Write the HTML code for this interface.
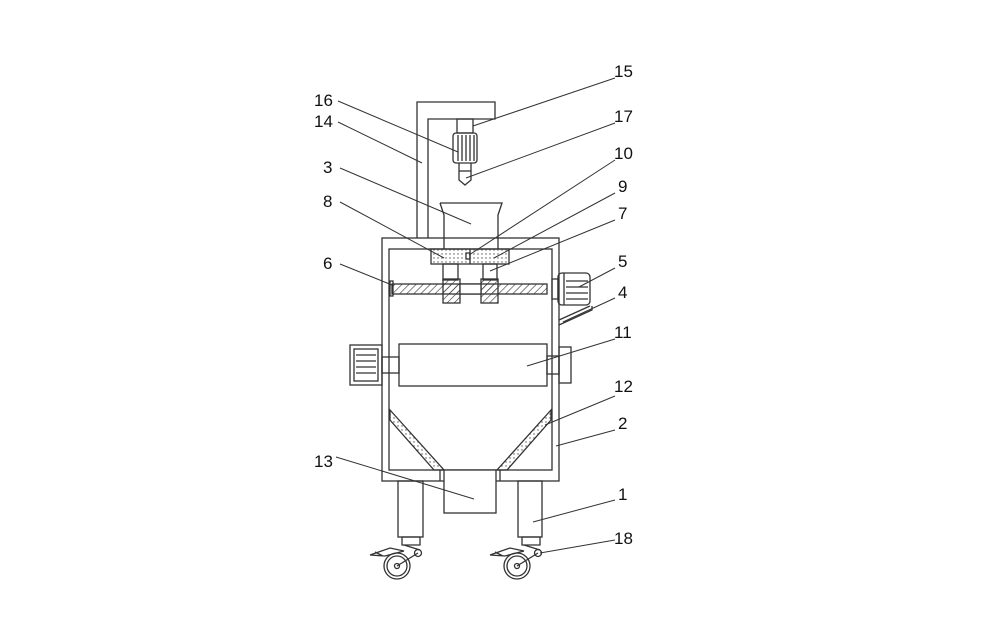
<!DOCTYPE html>
<html><head><meta charset="utf-8"><style>
html,body{margin:0;padding:0;background:#fff;}
svg{display:block;}
text{font-family:"Liberation Sans",sans-serif;font-size:17px;fill:#111;}
</style></head><body>
<svg width="996" height="641" viewBox="0 0 996 641" xmlns="http://www.w3.org/2000/svg">
<defs>
<pattern id="hatch" width="5" height="5" patternUnits="userSpaceOnUse" patternTransform="rotate(45)">
<line x1="0" y1="0" x2="0" y2="5" stroke="#333" stroke-width="1.2"/></pattern>
<pattern id="dots" width="4" height="4" patternUnits="userSpaceOnUse">
<circle cx="2" cy="2" r="0.7" fill="#555"/></pattern>
</defs>
<g fill="none" stroke="#333" stroke-width="1.3">
<path d="M417,238 V102 H495 V119 H428 V238"/>
<rect x="457" y="119" width="16" height="14"/>
<rect x="453" y="133" width="24" height="30" rx="3"/>
<line x1="458" y1="135" x2="458" y2="161"/><line x1="462" y1="135" x2="462" y2="161"/><line x1="466" y1="135" x2="466" y2="161"/><line x1="470" y1="135" x2="470" y2="161"/><line x1="474" y1="135" x2="474" y2="161"/>
<path d="M459,163 V180 L465,185 L471,180 V163"/>
<line x1="459" y1="171" x2="471" y2="171"/>
<path d="M440,203 H502 L498,215 V249 M444,249 V215 L440,203"/>
<rect x="382" y="238" width="177" height="243"/>
<rect x="389" y="249" width="163" height="221"/>
<rect x="431" y="249" width="78" height="15" fill="url(#dots)"/>
<line x1="470" y1="249" x2="470" y2="264"/>
<rect x="466" y="253" width="4" height="6"/>
<rect x="443" y="264" width="15" height="16"/>
<rect x="483" y="264" width="14" height="16"/>
<rect x="392" y="284" width="155" height="10" fill="url(#hatch)"/>
<rect x="390" y="281" width="3" height="15"/>
<rect x="443" y="279" width="17" height="24" fill="url(#hatch)"/>
<rect x="481" y="279" width="17" height="24" fill="url(#hatch)"/>
<rect x="460" y="284" width="21" height="10" fill="#fff"/>
<rect x="552" y="279" width="6" height="20"/>
<rect x="558" y="273" width="32" height="32" rx="4"/>
<line x1="564" y1="273" x2="564" y2="305"/>
<line x1="566" y1="281" x2="588" y2="281"/><line x1="566" y1="287" x2="588" y2="287"/><line x1="566" y1="293" x2="588" y2="293"/><line x1="566" y1="299" x2="588" y2="299"/>
<path d="M559,320 L590,306 M559,325 L592,310 V306"/>
<rect x="399" y="344" width="148" height="42"/>
<rect x="382" y="357" width="17" height="16"/>
<rect x="350" y="345" width="32" height="40"/>
<rect x="354" y="349" width="24" height="32"/>
<line x1="356" y1="355" x2="376" y2="355"/><line x1="356" y1="361" x2="376" y2="361"/><line x1="356" y1="367" x2="376" y2="367"/><line x1="356" y1="373" x2="376" y2="373"/>
<rect x="547" y="356" width="12" height="18"/>
<rect x="559" y="347" width="12" height="36"/>
<path d="M390,410 L444,470 L434,470 L390,420 Z" fill="url(#dots)"/>
<path d="M551,410 L497,470 L507,470 L551,420 Z" fill="url(#dots)"/>
<rect x="444" y="470" width="52" height="43" fill="#fff"/>
<line x1="440" y1="470" x2="440" y2="481"/><line x1="500" y1="470" x2="500" y2="481"/>
<rect x="398" y="481" width="25" height="56"/>
<rect x="518" y="481" width="24" height="56"/>
<g id="c1">
<path d="M402,537 H420 V545 H402 Z"/>
<circle cx="397" cy="566" r="13"/><circle cx="397" cy="566" r="10"/><circle cx="397" cy="566" r="2.5"/>
<path d="M397,566 L418,553 M404,545 L420,550"/>
<circle cx="418" cy="553" r="3.5"/>
<path d="M370,555 L390,548 L404,551 L385,556 Z M375,552 L383,556"/>
</g>
<use href="#c1" x="120"/>
<g stroke-width="1">
<line x1="615" y1="78" x2="473" y2="126"/>
<line x1="338" y1="101" x2="458" y2="152"/>
<line x1="338" y1="122" x2="422" y2="163"/>
<line x1="615" y1="123" x2="466" y2="178"/>
<line x1="340" y1="168" x2="471" y2="224"/>
<line x1="615" y1="160" x2="469" y2="255"/>
<line x1="615" y1="193" x2="494" y2="258"/>
<line x1="340" y1="202" x2="444" y2="258"/>
<line x1="615" y1="220" x2="490" y2="271"/>
<line x1="340" y1="264" x2="392" y2="285"/>
<line x1="615" y1="268" x2="579" y2="287"/>
<line x1="615" y1="298" x2="563" y2="322"/>
<line x1="615" y1="339" x2="527" y2="366"/>
<line x1="615" y1="396" x2="545" y2="425"/>
<line x1="615" y1="430" x2="556" y2="446"/>
<line x1="336" y1="457" x2="474" y2="499"/>
<line x1="615" y1="500" x2="533" y2="522"/>
<line x1="615" y1="540" x2="540" y2="553"/>
</g>
</g>
<text x="614" y="77">15</text>
<text x="314" y="106">16</text>
<text x="314" y="127">14</text>
<text x="614" y="122">17</text>
<text x="323" y="173">3</text>
<text x="614" y="159">10</text>
<text x="618" y="192">9</text>
<text x="323" y="207">8</text>
<text x="618" y="219">7</text>
<text x="323" y="269">6</text>
<text x="618" y="267">5</text>
<text x="618" y="298">4</text>
<text x="614" y="338">11</text>
<text x="614" y="392">12</text>
<text x="618" y="429">2</text>
<text x="314" y="467">13</text>
<text x="618" y="500">1</text>
<text x="614" y="544">18</text>
</svg>
</body></html>
